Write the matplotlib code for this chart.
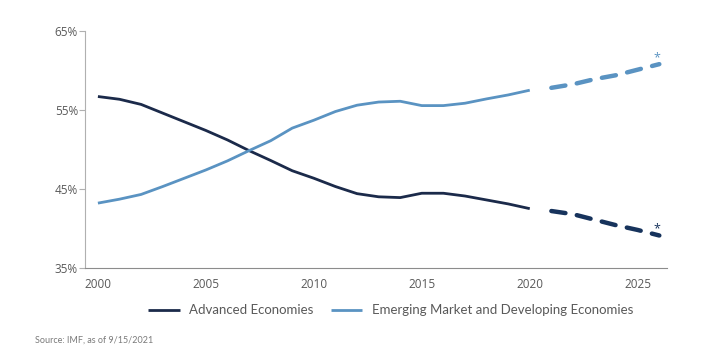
import matplotlib
matplotlib.use("Agg")
import matplotlib.pyplot as plt
from matplotlib.ticker import FuncFormatter

# Share of world GDP (%)
years = list(range(2000, 2021))
advanced = [56.7, 56.35, 55.7, 54.6, 53.5, 52.4, 51.2, 49.85, 48.6, 47.3,
            46.35, 45.3, 44.4, 44.0, 43.9, 44.45, 44.45, 44.1, 43.6, 43.1, 42.5]
emerging = [43.2, 43.7, 44.3, 45.3, 46.35, 47.4, 48.55, 49.85, 51.1, 52.7,
            53.7, 54.8, 55.6, 56.0, 56.1, 55.55, 55.55, 55.85, 56.4, 56.9, 57.5]

# IMF projections
proj_years = list(range(2021, 2027))
advanced_proj = [42.2, 41.8, 41.1, 40.4, 39.8, 39.1]
emerging_proj = [57.8, 58.25, 58.9, 59.4, 60.1, 60.8]

yticks = [35, 45, 55, 65]
xticks = [2000, 2005, 2010, 2015, 2020, 2025]

dark = "#1b2a4a"
dark_proj = "#17335c"
light = "#5a93c2"
grey = "#595959"

plt.rcParams["font.family"] = ["Open Sans", "DejaVu Sans"]

fig = plt.figure(figsize=(7.14, 3.52), dpi=100)
ax = fig.add_axes([0.119, 0.239, 0.815, 0.673])

ax.plot(years, advanced, color=dark, lw=2.0, solid_capstyle="butt",
        label="Advanced Economies")
ax.plot(years, emerging, color=light, lw=2.0, solid_capstyle="butt",
        label="Emerging Market and Developing Economies")
ax.plot(proj_years, advanced_proj, color=dark_proj, lw=3.2,
        dashes=(3.2, 2.6), dash_capstyle="round")
ax.plot(proj_years, emerging_proj, color=light, lw=3.2,
        dashes=(3.2, 2.6), dash_capstyle="round")

# asterisks marking projections
ax.annotate("*", (proj_years[-1], emerging_proj[-1]), xytext=(-2, 0),
            textcoords="offset points", color=light, fontsize=9,
            ha="center", va="bottom")
ax.annotate("*", (proj_years[-1], advanced_proj[-1]), xytext=(-2, 0),
            textcoords="offset points", color=dark_proj, fontsize=9,
            ha="center", va="bottom")

ax.set_xlim(1999.4, 2026.35)
ax.set_ylim(35, 65)
ax.set_yticks(yticks)
ax.set_xticks(xticks)
ax.yaxis.set_major_formatter(FuncFormatter(lambda v, p: f"{v:.0f}%"))

for side in ["top", "right"]:
    ax.spines[side].set_visible(False)
ax.spines["left"].set_color("#b0b0b0")
ax.spines["bottom"].set_color("#8c8c8c")
ax.spines["left"].set_linewidth(0.8)
ax.spines["bottom"].set_linewidth(0.8)
ax.tick_params(axis="y", length=4, color="#b0b0b0", labelsize=8.5,
               labelcolor=grey, pad=1)
ax.tick_params(axis="x", length=0, labelsize=8.5, labelcolor=grey, pad=7)

fig.legend(loc="center", bbox_to_anchor=(0.547, 0.118), ncol=2, frameon=False,
           handlelength=2.4, columnspacing=1.3, handletextpad=0.7,
           labelcolor=grey, prop={"family": ["Lato", "DejaVu Sans"], "size": 9.5})

fig.text(0.049, 0.026, "Source: IMF, as of 9/15/2021", fontsize=6.5,
         color="#7a7a7a", family=["Lato", "DejaVu Sans"])

fig.savefig("out.png", dpi=100)
